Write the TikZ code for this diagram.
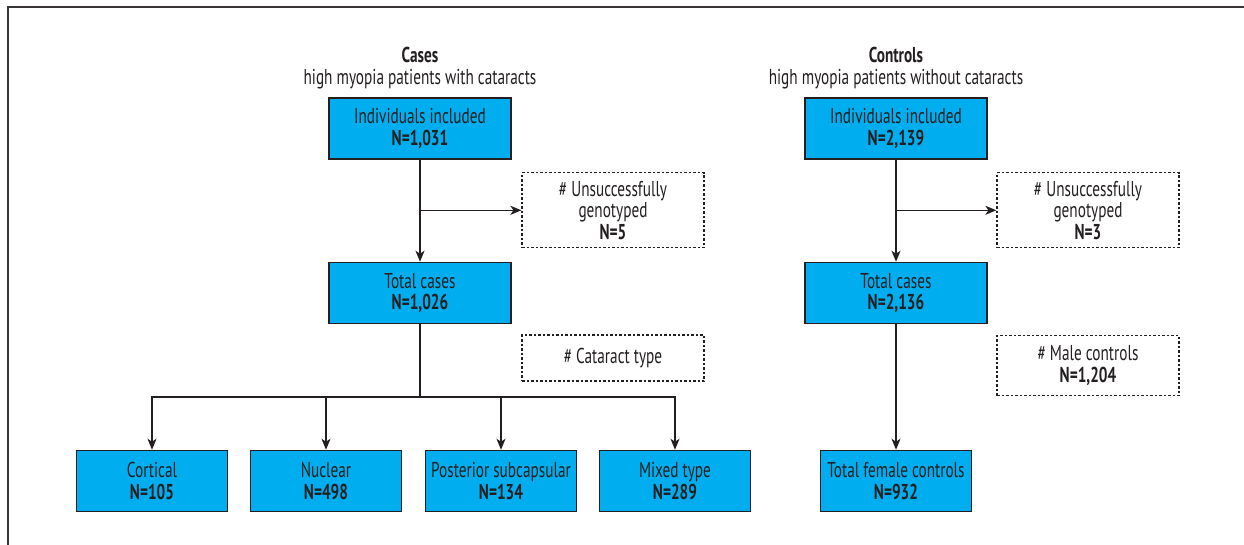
\documentclass[tikz,border=0pt]{standalone}
\usepackage{fontspec}
\setmainfont{PT Sans}[FakeStretch=0.71]
\usetikzlibrary{arrows.meta}
\definecolor{boxblue}{HTML}{00AEEF}
\definecolor{inkgray}{HTML}{231F20}

\begin{document}
\begin{tikzpicture}[x=1pt,y=-1pt,
  font=\fontsize{21.5}{21.5}\selectfont, text=inkgray,
  heading/.style={align=center, inner sep=0pt},
  box/.style={draw=inkgray, line width=1.5pt, fill=boxblue, minimum width=182pt, minimum height=61pt, align=center, inner sep=2pt},
  smallbox/.style={box, minimum width=151pt},
  note/.style={draw=inkgray, line width=1.2pt, dash pattern=on 2.5pt off 2pt, minimum width=182pt, align=center, inner sep=2pt},
  link/.style={draw=inkgray, line width=1.4pt, -{Stealth[length=11pt,width=9pt,inset=3pt]}}]
\useasboundingbox (0,0) rectangle (1244,545);
\draw[inkgray!90, line width=1.5pt] (1244,7) -- (8,7) -- (8,545); % frame

% cases
\node[heading] (cases) at (420,68) {\textbf{Cases}\\high myopia patients with cataracts};
\node[box] (ca1) at (420,128.5) {Individuals included\\\textbf{N=1,031}};
\node[note, minimum height=75pt] (cu1) at (613,210.3) {\# Unsuccessfully\\genotyped\\\textbf{N=5}};
\node[box] (ca2) at (420,293) {Total cases\\\textbf{N=1,026}};
\node[note, minimum height=46pt] (ctype) at (613,358) {\# Cataract type};
\coordinate (br) at (420,397);
\node[smallbox] (cort) at (152,481) {Cortical\\\textbf{N=105}};
\node[smallbox] (nucl) at (326,481) {Nuclear\\\textbf{N=498}};
\node[smallbox] (post) at (501,481) {Posterior subcapsular\\\textbf{N=134}};
\node[smallbox] (mixd) at (675,481) {Mixed type\\\textbf{N=289}};

\draw[link] (ca1) -- (ca2);
\draw[link] (ca1 |- cu1) -- (cu1);
\draw[draw=inkgray, line width=1.4pt] (ca2) -- (br);
\foreach \t in {cort,nucl,post,mixd}
  \draw[link] (br) -| (\t);

% controls
\node[heading] (controls) at (896,68) {\textbf{Controls}\\high myopia patients without cataracts};
\node[box] (co1) at (896,128.5) {Individuals included\\\textbf{N=2,139}};
\node[note, minimum height=75pt] (cu2) at (1088,210.3) {\# Unsuccessfully\\genotyped\\\textbf{N=3}};
\node[box] (co2) at (896,293) {Total cases\\\textbf{N=2,136}};
\node[note, minimum height=60pt] (male) at (1088,365.5) {\# Male controls\\\textbf{N=1,204}};
\node[smallbox] (fem) at (896,481) {Total female controls\\\textbf{N=932}};

\draw[link] (co1) -- (co2);
\draw[link] (co1 |- cu2) -- (cu2);
\draw[link] (co2) -- (fem);
\end{tikzpicture}
\end{document}
